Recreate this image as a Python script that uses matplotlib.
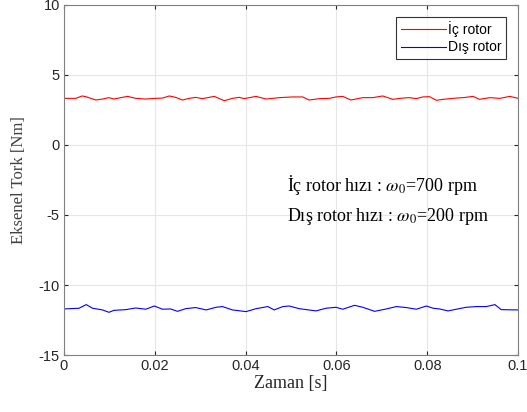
import matplotlib
matplotlib.use("Agg")
import matplotlib.pyplot as plt

# -- Data -------------------------------------------------------------------
t_ic = [0.0, 0.0026, 0.0040, 0.0048, 0.0070, 0.0085, 0.0099, 0.0110, 0.0125, 0.0140,
        0.0158, 0.0180, 0.0202, 0.0217, 0.0232, 0.0246, 0.0261, 0.0276, 0.0290, 0.0305,
        0.0331, 0.0353, 0.0371, 0.0386, 0.0397, 0.0423, 0.0445, 0.0460, 0.0474, 0.0504,
        0.0526, 0.0540, 0.0563, 0.0585, 0.0599, 0.0614, 0.0632, 0.0658, 0.0680, 0.0702,
        0.0724, 0.0746, 0.0761, 0.0776, 0.0790, 0.0805, 0.0820, 0.0835, 0.0864, 0.0879,
        0.0901, 0.0915, 0.0938, 0.0960, 0.0982, 0.1000]
tork_ic = [3.33, 3.33, 3.50, 3.45, 3.21, 3.28, 3.38, 3.28, 3.38, 3.47,
           3.33, 3.28, 3.33, 3.35, 3.50, 3.40, 3.21, 3.33, 3.40, 3.31,
           3.47, 3.16, 3.33, 3.40, 3.31, 3.47, 3.28, 3.33, 3.38, 3.43,
           3.43, 3.21, 3.31, 3.33, 3.43, 3.47, 3.21, 3.38, 3.38, 3.50,
           3.26, 3.35, 3.38, 3.31, 3.43, 3.45, 3.19, 3.26, 3.35, 3.38,
           3.47, 3.26, 3.38, 3.33, 3.47, 3.33]

t_dis = [0.0, 0.0033, 0.0049, 0.0063, 0.0085, 0.0099, 0.0110, 0.0136, 0.0158, 0.0180,
         0.0199, 0.0217, 0.0235, 0.0250, 0.0268, 0.0290, 0.0313, 0.0335, 0.0349, 0.0371,
         0.0401, 0.0423, 0.0449, 0.0463, 0.0482, 0.0496, 0.0518, 0.0555, 0.0577, 0.0599,
         0.0614, 0.0640, 0.0658, 0.0684, 0.0710, 0.0732, 0.0754, 0.0776, 0.0798, 0.0813,
         0.0827, 0.0846, 0.0864, 0.0886, 0.0908, 0.0930, 0.0949, 0.0963, 0.1000]
tork_dis = [-11.71, -11.66, -11.40, -11.66, -11.78, -11.95, -11.81, -11.76, -11.64, -11.73,
            -11.50, -11.73, -11.71, -11.88, -11.69, -11.61, -11.78, -11.59, -11.54, -11.78,
            -11.90, -11.69, -11.54, -11.78, -11.54, -11.50, -11.69, -11.85, -11.66, -11.59,
            -11.73, -11.45, -11.59, -11.88, -11.71, -11.54, -11.61, -11.73, -11.50, -11.66,
            -11.71, -11.85, -11.73, -11.59, -11.54, -11.54, -11.40, -11.76, -11.78]

xticks = [0, 0.02, 0.04, 0.06, 0.08, 0.1]
xtick_labels = ["0", "0.02", "0.04", "0.06", "0.08", "0.1"]
yticks = [-15, -10, -5, 0, 5, 10]
ytick_labels = ["-15", "-10", "-5", "0", "5", "10"]

label_ic = "İç rotor"
label_dis = "Dış rotor"
note_ic = r"İç rotor hızı : $\omega_0$=700 rpm"
note_dis = r"Dış rotor hızı : $\omega_0$=200 rpm"

# -- Figure -----------------------------------------------------------------
plt.rcParams.update({"font.family": "Liberation Sans", "mathtext.fontset": "stix"})
fig = plt.figure(figsize=(5.27, 4.12), dpi=100)
ax = fig.add_axes([0.1214, 0.1383, 0.8616, 0.8497])

ax.plot(t_ic, tork_ic, color="red", lw=0.8, label=label_ic)
ax.plot(t_dis, tork_dis, color="blue", lw=0.8, label=label_dis)

ax.set_xlim(0, 0.1)
ax.set_ylim(-15, 10)
ax.set_xticks(xticks)
ax.set_xticklabels(xtick_labels)
ax.set_yticks(yticks)
ax.set_yticklabels(ytick_labels)
ax.tick_params(direction="in", length=3, labelsize=10.5, colors="#262626",
               top=True, right=True, pad=3)
for s in ax.spines.values():
    s.set_color("#808080")
    s.set_linewidth(0.8)
ax.grid(True, color="#e6e6e6", lw=0.8)
ax.set_axisbelow(True)

ax.set_xlabel("Zaman [s]", fontsize=13, family="Liberation Serif", labelpad=1,
              color="#262626")
ax.set_ylabel("Eksenel Tork [Nm]", fontsize=12, family="Liberation Serif",
              labelpad=8, color="#404040")

ax.text(0.0491, -2.86, note_ic, fontsize=13, family="Liberation Serif", va="center")
ax.text(0.0491, -5.14, note_dis, fontsize=13, family="Liberation Serif", va="center")

leg = ax.legend(loc="upper right", fontsize=10, frameon=True, fancybox=False,
                edgecolor="black", handlelength=3.3, handletextpad=0.15,
                borderpad=0.3, labelspacing=0.25, borderaxespad=0.85)
leg.get_frame().set_linewidth(0.8)

fig.savefig("out.png", dpi=100)
